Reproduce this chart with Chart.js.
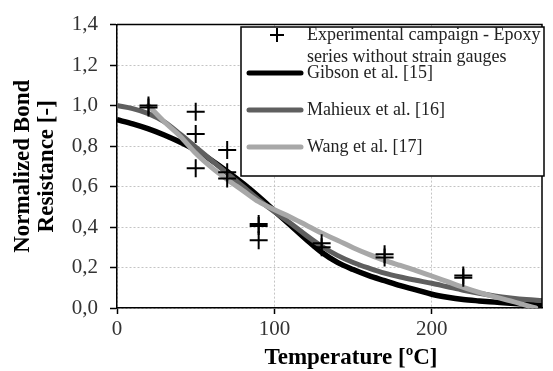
<!DOCTYPE html>
<html>
<head>
<meta charset="utf-8">
<script src="https://cdn.jsdelivr.net/npm/chart.js@4.4.0/dist/chart.umd.min.js"></script>
<style>
  body { margin: 0; background: #fff; }
  #wrap { width: 553px; height: 371px; }
</style>
</head>
<body>
<div id="wrap"><canvas id="myChart" width="553" height="371"></canvas></div>
<script>
// tick labels shown on the axes
const xTicks = [0, 100, 200];
const yTicks = [0, 0.2, 0.4, 0.6, 0.8, 1.0, 1.2, 1.4];

// experimental points
const expTemps = [20, 20, 50, 50, 50, 70, 70, 70, 90, 90, 90, 130, 130, 170, 170, 220, 220];
const expVals  = [1.00, 0.99, 0.97, 0.86, 0.69, 0.78, 0.67, 0.64, 0.415, 0.405, 0.335, 0.32, 0.30, 0.265, 0.25, 0.16, 0.15];

// model curves
const curveTemps  = [0, 10, 20, 30, 40, 50, 60, 70, 80, 90, 100, 110, 120, 130, 140, 150, 160, 170, 180, 190, 200, 210, 220, 230, 240, 250, 260, 270];
const gibsonVals  = [0.93, 0.91, 0.885, 0.855, 0.82, 0.78, 0.73, 0.675, 0.615, 0.55, 0.48, 0.41, 0.34, 0.275, 0.225, 0.19, 0.16, 0.135, 0.11, 0.09, 0.068, 0.053, 0.042, 0.035, 0.029, 0.023, 0.018, 0.014];
const mahieuxVals = [1.0, 0.985, 0.96, 0.92, 0.86, 0.795, 0.73, 0.665, 0.60, 0.535, 0.475, 0.42, 0.36, 0.305, 0.26, 0.225, 0.197, 0.172, 0.153, 0.137, 0.122, 0.105, 0.088, 0.073, 0.06, 0.05, 0.042, 0.037];
const wangTemps   = [20, 30, 40, 50, 60, 70, 80, 90, 100, 110, 120, 130, 140, 150, 160, 170, 180, 190, 200, 210, 220, 230, 240, 250, 260, 266];
const wangVals    = [1.0, 0.92, 0.85, 0.765, 0.695, 0.635, 0.58, 0.525, 0.485, 0.45, 0.41, 0.37, 0.335, 0.298, 0.265, 0.235, 0.21, 0.185, 0.158, 0.13, 0.102, 0.077, 0.055, 0.035, 0.013, 0.0];

const seriesNames = [
  ['Experimental campaign - Epoxy', 'series without strain gauges'],
  'Gibson et al. [15]',
  'Mahieux et al. [16]',
  'Wang et al. [17]'
];
const xTitle = 'Temperature [ºC]';

function pts(xs, ys) {
  return xs.map((x, i) => ({ x: x, y: ys[i] }));
}

const serif = "'Liberation Serif', 'DejaVu Serif', serif";

// box legend drawn inside the plot, like the original
const boxLegend = {
  id: 'boxLegend',
  afterDraw(chart) {
    const ctx = chart.ctx;
    const bx = 241, by = 27, bw = 303, bh = 149;
    const rows = [35, 73, 110, 147];
    ctx.save();
    ctx.fillStyle = '#fff';
    ctx.fillRect(bx, by, bw, bh);
    ctx.strokeStyle = '#000';
    ctx.lineWidth = 1.5;
    ctx.strokeRect(bx, by, bw, bh);
    ctx.font = '18px ' + serif;
    ctx.textBaseline = 'middle';
    ctx.fillStyle = '#222';
    chart.data.datasets.forEach((ds, i) => {
      const y = rows[i];
      if (ds.showLine) {
        ctx.strokeStyle = ds.borderColor;
        ctx.lineWidth = 5;
        ctx.lineCap = 'round';
        ctx.beginPath();
        ctx.moveTo(249, y);
        ctx.lineTo(301, y);
        ctx.stroke();
      } else {
        ctx.strokeStyle = '#000';
        ctx.lineWidth = 2;
        ctx.lineCap = 'butt';
        ctx.beginPath();
        ctx.moveTo(270, y); ctx.lineTo(284, y);
        ctx.moveTo(277, y - 7); ctx.lineTo(277, y + 7);
        ctx.stroke();
      }
      const lines = [].concat(ds.label);
      lines.forEach((t, k) => ctx.fillText(t, 307, y + k * 22));
    });
    ctx.restore();
  }
};

// top and right edges of the plot frame + x title (sits a bit right of centre in the original)
const frame = {
  id: 'frame',
  afterDatasetsDraw(chart) {
    const a = chart.chartArea, ctx = chart.ctx;
    ctx.save();
    ctx.strokeStyle = '#000';
    ctx.lineWidth = 1.5;
    ctx.beginPath();
    ctx.moveTo(a.left, a.top);
    ctx.lineTo(a.right, a.top);
    ctx.lineTo(a.right, a.bottom);
    ctx.stroke();
    ctx.restore();
  },
  afterDraw(chart) {
    const ctx = chart.ctx;
    ctx.save();
    ctx.font = 'bold 23px ' + serif;
    ctx.fillStyle = '#000';
    ctx.textAlign = 'center';
    ctx.textBaseline = 'alphabetic';
    ctx.fillText(xTitle, 351, 364);
    ctx.restore();
  }
};

const ctx = document.getElementById('myChart').getContext('2d');
const chart = new Chart(ctx, {
  type: 'scatter',
  data: {
    datasets: [{
      label: seriesNames[0],
      data: pts(expTemps, expVals),
      showLine: false,
      pointStyle: 'cross',
      pointRadius: 9,
      pointBorderWidth: 2,
      borderColor: '#000',
      backgroundColor: '#000',
      order: 0
    }, {
      label: seriesNames[1],
      data: pts(curveTemps, gibsonVals),
      showLine: true,
      borderColor: '#000',
      borderWidth: 5.5,
      pointRadius: 0,
      cubicInterpolationMode: 'monotone',
      order: 3
    }, {
      label: seriesNames[2],
      data: pts(curveTemps, mahieuxVals),
      showLine: true,
      borderColor: '#5f5f5f',
      borderWidth: 5,
      pointRadius: 0,
      cubicInterpolationMode: 'monotone',
      order: 2
    }, {
      label: seriesNames[3],
      data: pts(wangTemps, wangVals),
      showLine: true,
      borderColor: '#a8a8a8',
      borderWidth: 5,
      borderCapStyle: 'round',
      pointRadius: 0,
      cubicInterpolationMode: 'monotone',
      order: 1
    }]
  },
  options: {
    responsive: false,
    animation: false,
    layout: { padding: { top: 21, right: 2, left: 0, bottom: 0 } },
    plugins: { legend: { display: false }, tooltip: { enabled: false } },
    scales: {
      x: {
        type: 'linear',
        min: 0,
        max: 270,
        afterBuildTicks: (s) => { s.ticks = xTicks.map(v => ({ value: v })); },
        afterFit: (s) => { s.height = 63; },
        grid: {
          color: '#c4c4c4',
          lineWidth: 1,
          tickColor: '#000',
          tickLength: 6,
          tickWidth: 1.5,
          tickBorderDash: []
        },
        border: { color: '#000', width: 1.5, dash: [2, 2] },
        ticks: {
          color: '#333',
          font: { family: serif, size: 21 },
          padding: 3,
          maxRotation: 0
        },
        title: { display: false }
      },
      y: {
        min: 0,
        max: 1.4,
        afterBuildTicks: (s) => { s.ticks = yTicks.map(v => ({ value: v })); },
        afterFit: (s) => { s.width = 117; },
        grid: {
          color: (c) => c.tick && c.tick.value >= 1.4 ? 'rgba(0,0,0,0)' : '#c4c4c4',
          lineWidth: 1,
          tickColor: '#000',
          tickLength: 7,
          tickWidth: 1.5,
          tickBorderDash: []
        },
        border: { color: '#000', width: 1.5, dash: [2, 2] },
        ticks: {
          color: '#333',
          font: { family: serif, size: 21 },
          padding: 12,
          callback: (v) => v.toFixed(1).replace('.', ',')
        },
        title: {
          display: true,
          text: ['Normalized Bond', 'Resistance [-]'],
          color: '#000',
          font: { family: serif, size: 23, weight: 'bold', lineHeight: 1.05 },
          padding: { top: 11, bottom: 0 }
        }
      }
    }
  },
  plugins: [frame, boxLegend]
});
</script>
</body>
</html>
